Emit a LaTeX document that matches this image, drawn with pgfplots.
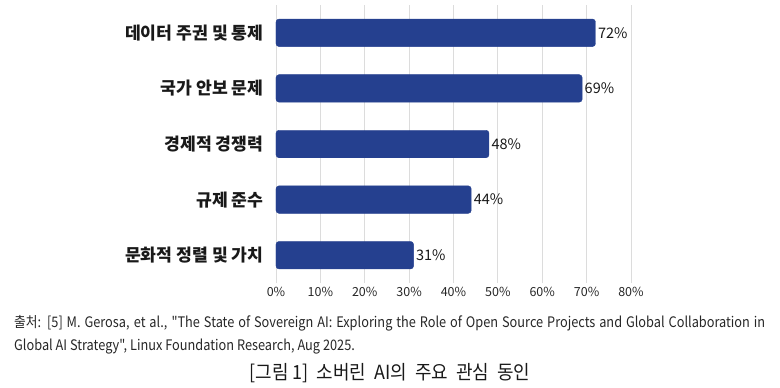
\documentclass[border=0pt]{standalone}
\usepackage{fontspec}
\usepackage{pgfplots}
\pgfplotsset{compat=1.18}
\setmainfont{Noto Sans CJK KR}
\newfontfamily\srcfont{Noto Sans CJK KR}[FakeStretch=0.88]
\newfontfamily\capfont{Noto Sans CJK KR}[FakeStretch=0.92]
\definecolor{barblue}{RGB}{37,64,143}
\definecolor{gridgray}{RGB}{220,220,220}
\begin{document}
\begin{tikzpicture}[x=1pt,y=1pt]
\path[use as bounding box] (0,0) rectangle (780,-388);
\begin{axis}[
  at={(276pt,-283pt)}, anchor=south west,
  scale only axis, width=355pt, height=278pt,
  xbar, bar width=27.5pt,
  xmin=0, xmax=80, ymin=-0.5, ymax=4.5,
  xtick={0,10,...,80},
  xticklabel={\pgfmathprintnumber{\tick}\%},
  /pgf/number format/assume math mode=true,
  xticklabel style={font=\fontsize{12.5}{14}\selectfont, text=black!85, yshift=-1pt},
  ytick={0,1,2,3,4},
  yticklabels={문화적 정렬 및 가치, 규제 준수, 경제적 경쟁력, 국가 안보 문제, 데이터 주권 및 통제},
  yticklabel style={font=\fontsize{17.2}{19}\selectfont\bfseries, text=black!90, xshift=-9pt},
  axis line style={draw=none},
  major tick length=0pt,
  xmajorgrids, grid style={gridgray, line width=0.8pt},
  nodes near coords={\pgfmathprintnumber{\pgfplotspointmeta}\%},
  nodes near coords align=horizontal,
  every node near coord/.append style={font=\fontsize{14.5}{16}\selectfont, text=black!90, /pgf/number format/assume math mode=true, xshift=-1pt},
  clip=false,
]
\addplot[fill=barblue, draw=barblue, rounded corners=3pt] coordinates {
  (31,0) (44,1) (48,2) (69,3) (72,4)
};
\end{axis}
\node[anchor=north west, inner sep=0pt] at (14,-315) {\parbox{751pt}{\srcfont\fontsize{14.5}{23}\selectfont\color{black!85}
출처: [5] M. Gerosa, et al., "The State of Sovereign AI: Exploring the Role of Open Source Projects and Global Collaboration in\linebreak
Global AI Strategy", Linux Foundation Research, Aug 2025.}};
\node[anchor=center, inner sep=0pt] at (390,-373) {\capfont\fontsize{19.5}{22}\selectfont\color{black!90}[그림 1]\ \ 소버린\ \ AI의\ \ 주요\ \ 관심\ \ 동인};
\end{tikzpicture}
\end{document}
